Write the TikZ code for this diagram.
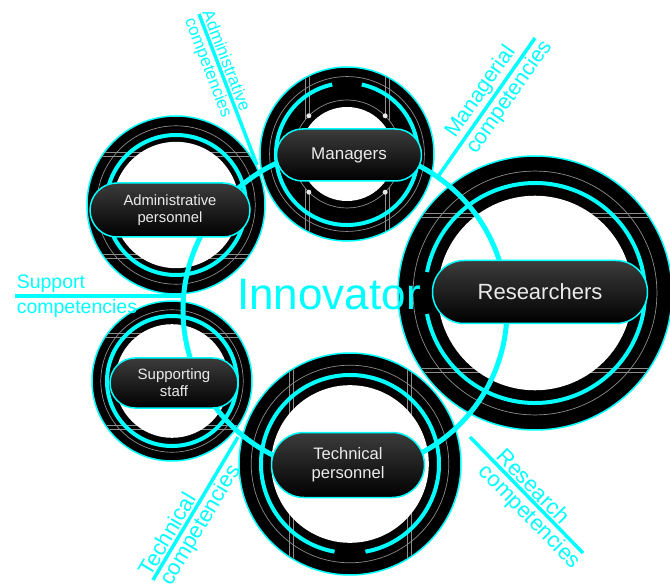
\documentclass[tikz,border=0pt]{standalone}
\usepackage{fontspec}
\setmainfont{Liberation Sans}
\usetikzlibrary{calc,shapes.misc}

\definecolor{neon}{HTML}{00FFFF}
\definecolor{wiregrey}{HTML}{8C8C8C}
\definecolor{pilltop}{HTML}{3C3C3C}

\tikzset{
  rim/.style={draw=neon, line width=1.5pt},
  wire/.style={draw=wiregrey, line width=0.7pt},
  halo/.style={draw=neon, line width=4pt},
  tag/.style={draw=neon, line width=3.5pt},
  tagtext/.style={text=neon, sloped, inner sep=1.5pt},
  pill/.style={rounded rectangle, draw=neon, line width=1.5pt,
    top color=pilltop, bottom color=black, text=white!92!black, align=center, inner sep=0pt},
}

\begin{document}
\begin{tikzpicture}[x=1pt,y=1pt]
  \useasboundingbox (0,0) rectangle (670,-588);
  % ring centres
  \coordinate (cman) at (347,-154);
  \coordinate (cadm) at (176,-205);
  \coordinate (cres) at (535,-293);
  \coordinate (csup) at (172,-381);
  \coordinate (ctec) at (350,-464);
  \coordinate (chub) at (345,-310);

  % black discs
  \foreach \ctr/\rad in {cman/87,cadm/89,cres/137,csup/80,ctec/111}{
    \fill[black] (\ctr) circle (\rad);
    \draw[rim] (\ctr) circle (\rad);
    \draw[wire] (\ctr) circle ({0.89*\rad});
  }

  % circuit wires, flat ones
  \foreach \ctr/\rad in {cadm/89,cres/137,csup/80}{
    \begin{scope}
      \clip (\ctr) circle ({\rad-1});
      \foreach \sg in {1,-1}{
        \draw[wire] ($(\ctr)+(-\rad,\sg*0.55*\rad)$) -- ++(2*\rad,0);
        \draw[wire] ($(\ctr)+(-\rad,\sg*0.55*\rad+\sg*4)$) -- ++(2*\rad,0);
      }
    \end{scope}
  }
  % circuit wires, upright ones
  \foreach \ctr/\rad/\dx in {cman/87/38,ctec/111/57}{
    \begin{scope}
      \clip (\ctr) circle ({\rad-1});
      \foreach \sg in {1,-1}{
        \draw[wire] ($(\ctr)+(\sg*\dx,-\rad)$) -- ++(0,2*\rad);
        \draw[wire] ($(\ctr)+(\sg*\dx+\sg*4,-\rad)$) -- ++(0,2*\rad);
      }
    \end{scope}
  }

  % managers core
  \fill[black] (cman) circle (54);
  \draw[wire] (cman) circle (54);
  \fill[white] (cman) circle (47);
  \foreach \a in {45,135,225,315}
    \fill[white!80!wiregrey] ($(cman)+(\a:54)$) circle (2.5);

  % white cores
  \foreach \ctr/\rad in {cadm/89,cres/137,csup/80,ctec/111}
    \fill[white] (\ctr) circle ({0.71*\rad});

  % cyan rings
  \draw[halo] ($(cman)+(102:71)$) arc (102:438:71);
  \draw[halo] (cadm) circle (70);
  \draw[halo] ($(cres)+(191:110)$) arc (191:529:110);
  \draw[halo] (csup) circle (65);
  \draw[halo] ($(ctec)+(280:89)$) arc (280:620:89);

  % link circle through all rings
  \draw[halo, line width=5pt] (chub) circle (162);

  % pills
  \node[pill, minimum width=145pt, minimum height=52pt, font=\fontsize{17}{20}\selectfont] (managers) at (349,-155) {Managers};
  \node[pill, minimum width=160pt, minimum height=54pt, font=\fontsize{14.8}{17}\selectfont] (admin) at (170,-210) {Administrative\\personnel};
  \node[pill, minimum width=215pt, minimum height=63pt, font=\fontsize{22}{26}\selectfont] (researchers) at (540,-292) {Researchers};
  \node[pill, minimum width=128pt, minimum height=50pt, font=\fontsize{15}{17}\selectfont] (support) at (174,-383) {Supporting\\staff};
  \node[pill, minimum width=153pt, minimum height=65pt, font=\fontsize{16.6}{19}\selectfont] (technical) at (348,-465) {Technical\\personnel};

  \node[text=neon, anchor=base, font=\fontsize{44}{50}\selectfont] (innovator) at (329,-310) {Innovator};

  % competency tags
  \coordinate (admtop) at (199,-14);
  \coordinate (admfoot) at (257,-165);
  \draw[tag] (admtop) -- (admfoot)
    node[tagtext, pos=0.33, above, font=\fontsize{17}{20}\selectfont] (admtag) {Administrative}
    node[tagtext, pos=0.33, below, font=\fontsize{17}{20}\selectfont] (admtag2) {competencies};

  \coordinate (mgfoot) at (437,-178);
  \coordinate (mgtop) at (535,-38);
  \draw[tag] (mgfoot) -- (mgtop)
    node[tagtext, pos=0.56, above, font=\fontsize{21.5}{24}\selectfont] (mgtag) {Managerial}
    node[tagtext, pos=0.63, below, font=\fontsize{21.5}{24}\selectfont] (mgtag2) {competencies};

  \coordinate (supleft) at (15,-296);
  \coordinate (supright) at (183,-296);
  \draw[tag] (supleft) -- (supright)
    node[text=neon, pos=0, anchor=south west, inner sep=0pt, yshift=2pt, font=\fontsize{19.5}{22}\selectfont] (suptag) {Support}
    node[text=neon, pos=0, anchor=north west, inner sep=0pt, yshift=-2pt, font=\fontsize{19.5}{22}\selectfont] (suptag2) {competencies};

  \coordinate (tecfoot) at (153,-580);
  \coordinate (tectop) at (238,-437);
  \draw[tag] (tecfoot) -- (tectop)
    node[tagtext, pos=0.28, above, font=\fontsize{22}{25}\selectfont] (tectag) {Technical}
    node[tagtext, pos=0.43, below, font=\fontsize{22}{25}\selectfont] (tectag2) {competencies};

  \coordinate (restop) at (470,-437);
  \coordinate (resfoot) at (583,-553);
  \draw[tag] (restop) -- (resfoot)
    node[tagtext, pos=0.49, above, font=\fontsize{22}{25}\selectfont] (restag) {Research}
    node[tagtext, pos=0.61, below, font=\fontsize{22}{25}\selectfont] (restag2) {competencies};
\end{tikzpicture}
\end{document}
